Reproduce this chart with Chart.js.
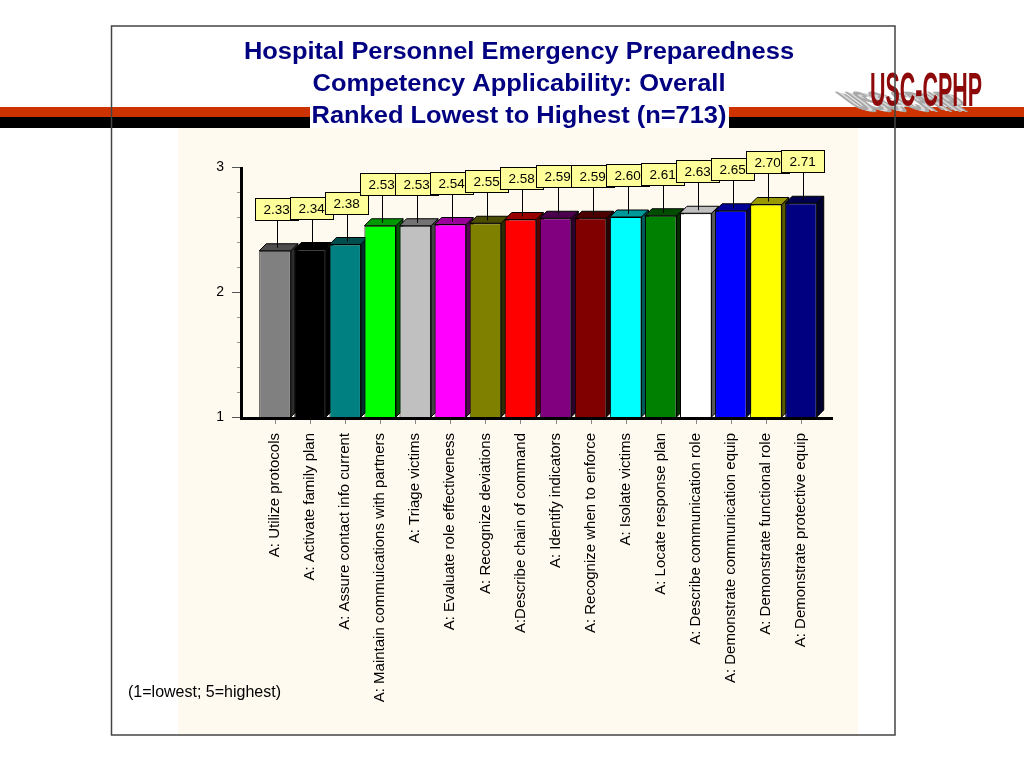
<!DOCTYPE html>
<html>
<head>
<meta charset="utf-8">
<script src="https://cdn.jsdelivr.net/npm/chart.js@4.4.0/dist/chart.umd.min.js"></script>
<style>
  html, body { margin: 0; padding: 0; background: #fff; }
  #wrap { width: 1024px; height: 779px; position: relative; }
</style>
</head>
<body>
<div id="wrap"><canvas id="chart"></canvas></div>
<script>
// Competencies, ranked lowest to highest
const categories = [
    'A: Utilize protocols',
    'A: Activate family plan',
    'A: Assure contact info current',
    'A: Maintain commuications with partners',
    'A: Triage victims',
    'A: Evaluate role effectiveness',
    'A: Recognize deviations',
    'A:Describe chain of command',
    'A: Identify indicators',
    'A: Recognize when to enforce',
    'A: Isolate victims',
    'A: Locate response plan',
    'A: Describe communication role',
    'A: Demonstrate communication equip',
    'A: Demonstrate functional role',
    'A: Demonstrate protective equip'
];
const scores = [2.33, 2.34, 2.38, 2.53, 2.53, 2.54, 2.55, 2.58, 2.59, 2.59, 2.60, 2.61, 2.63, 2.65, 2.70, 2.71];
const barColors = ['#808080', '#000000', '#008080', '#00ff00', '#c0c0c0', '#ff00ff', '#808000', '#ff0000',
                   '#800080', '#800000', '#00ffff', '#008000', '#ffffff', '#0000ff', '#ffff00', '#000080'];
const yTicks = [1, 2, 3];
const titleLines = ['Hospital Personnel Emergency Preparedness', 'Competency Applicability: Overall', 'Ranked Lowest to Highest (n=713)'];
const noteText = '(1=lowest; 5=highest)';

const FONT = '"Liberation Sans", Arial, sans-serif';
const DEPTH = 7;

// darken a hex colour by factor f
function shade(hex, f) {
    const n = parseInt(hex.slice(1), 16);
    const r = Math.round(((n >> 16) & 255) * f);
    const g = Math.round(((n >> 8) & 255) * f);
    const b = Math.round((n & 255) * f);
    return 'rgb(' + r + ',' + g + ',' + b + ')';
}

// slide background: frame, stripes, title, logo
const backdrop = {
    id: 'backdrop',
    beforeDraw(chart) {
        const ctx = chart.ctx;
        ctx.save();
        ctx.fillStyle = '#ffffff';
        ctx.fillRect(0, 0, 1024, 779);
        ctx.fillStyle = '#fefaef';
        ctx.fillRect(178, 128, 680, 607);

        // stripes
        ctx.fillStyle = '#cc3300';
        ctx.fillRect(0, 107, 1024, 10);
        ctx.fillStyle = '#000000';
        ctx.fillRect(0, 117, 1024, 11);

        // title
        ctx.font = 'bold 23px ' + FONT;
        const w3 = ctx.measureText(titleLines[2]).width;
        const sx = 415 / w3;
        ctx.fillStyle = '#ffffff';
        ctx.fillRect(310, 106, 419, 22);
        ctx.fillStyle = '#000080';
        ctx.textAlign = 'center';
        ctx.textBaseline = 'alphabetic';
        const baselines = [59, 91, 123];
        titleLines.forEach((line, i) => {
            ctx.save();
            ctx.translate(519, baselines[i]);
            ctx.scale(sx, 1);
            ctx.fillText(line, 0, 0);
            ctx.restore();
        });

        // logo with slanted grey shadow
        ctx.font = 'bold 48px ' + FONT;
        ctx.textAlign = 'left';
        const lw = ctx.measureText('USC-CPHP').width;
        const lsx = 112 / lw;
        for (let k = 0; k < 3; k++) {
            ctx.save();
            ctx.setTransform(lsx, 0, 0.75, 0.55, 866 - k * 4, 112 - k);
            ctx.fillStyle = k === 1 ? '#d8d8d8' : '#a8a8a8';
            ctx.fillText('USC-CPHP', 0, 0);
            ctx.restore();
        }
        ctx.save();
        ctx.translate(870, 106);
        ctx.scale(lsx, 1.0);
        ctx.fillStyle = '#8e0a0a';
        ctx.fillText('USC-CPHP', 0, 0);
        ctx.restore();

        // frame
        ctx.strokeStyle = '#444444';
        ctx.lineWidth = 1.5;
        ctx.strokeRect(111.5, 26, 783.5, 709);

        // note
        ctx.fillStyle = '#000000';
        ctx.font = '16px ' + FONT;
        ctx.fillText(noteText, 128, 697);
        ctx.restore();
    }
};

// 3D top and side faces, drawn behind the fronts
const faces = {
    id: 'faces',
    beforeDatasetsDraw(chart) {
        const ctx = chart.ctx;
        const meta = chart.getDatasetMeta(0);
        const base = chart.scales.y.getPixelForValue(1);
        ctx.save();
        ctx.strokeStyle = '#000000';
        ctx.lineWidth = 1;
        meta.data.forEach((bar, i) => {
            const left = bar.x - bar.width / 2;
            const right = bar.x + bar.width / 2;
            const top = bar.y;
            ctx.fillStyle = shade(barColors[i], 0.35);
            ctx.beginPath();
            ctx.moveTo(right, top);
            ctx.lineTo(right + DEPTH, top - DEPTH);
            ctx.lineTo(right + DEPTH, base - DEPTH);
            ctx.lineTo(right, base);
            ctx.closePath();
            ctx.fill();
            ctx.stroke();
            ctx.fillStyle = i === 12 ? '#c0c0c0' : shade(barColors[i], 0.6);
            ctx.beginPath();
            ctx.moveTo(left, top);
            ctx.lineTo(left + DEPTH, top - DEPTH);
            ctx.lineTo(right + DEPTH, top - DEPTH);
            ctx.lineTo(right, top);
            ctx.closePath();
            ctx.fill();
            ctx.stroke();
        });
        ctx.restore();
    }
};

// axes lines, ticks and the yellow value boxes
const overlay = {
    id: 'overlay',
    afterDatasetsDraw(chart) {
        const ctx = chart.ctx;
        const y = chart.scales.y;
        const meta = chart.getDatasetMeta(0);
        const floor = y.getPixelForValue(1);
        ctx.save();

        // minor ticks
        ctx.strokeStyle = '#999999';
        ctx.lineWidth = 1;
        for (let v = 1.2; v < 3; v += 0.2) {
            const py = Math.round(y.getPixelForValue(v)) + 0.5;
            ctx.beginPath();
            ctx.moveTo(237, py);
            ctx.lineTo(241, py);
            ctx.stroke();
        }
        // major ticks
        ctx.strokeStyle = '#555555';
        yTicks.forEach(v => {
            const py = Math.round(y.getPixelForValue(v)) + 0.5;
            ctx.beginPath();
            ctx.moveTo(232, py);
            ctx.lineTo(241, py);
            ctx.stroke();
        });
        // category ticks
        ctx.strokeStyle = '#888888';
        meta.data.forEach(bar => {
            ctx.beginPath();
            ctx.moveTo(Math.round(bar.x) + 0.5, floor + 2);
            ctx.lineTo(Math.round(bar.x) + 0.5, floor + 7);
            ctx.stroke();
        });

        // axis lines
        ctx.strokeStyle = '#000000';
        ctx.lineWidth = 3;
        ctx.beginPath();
        ctx.moveTo(241.5, y.getPixelForValue(3));
        ctx.lineTo(241.5, floor + 1.5);
        ctx.lineTo(833, floor + 1.5);
        ctx.stroke();

        // leader lines
        ctx.lineWidth = 1;
        meta.data.forEach(bar => {
            const lx = Math.round(bar.x + 2) + 0.5;
            ctx.beginPath();
            ctx.moveTo(lx, bar.y - 31);
            ctx.lineTo(lx, bar.y - 3);
            ctx.stroke();
        });

        // value boxes
        ctx.font = '13.5px ' + FONT;
        ctx.textAlign = 'left';
        ctx.textBaseline = 'middle';
        meta.data.forEach((bar, i) => {
            const bx = Math.round(bar.x - 20) + 0.5;
            const by = Math.round(bar.y - 53) + 0.5;
            ctx.fillStyle = '#ffff99';
            ctx.fillRect(bx, by, 43, 22);
            ctx.strokeStyle = '#000000';
            ctx.strokeRect(bx, by, 43, 22);
            ctx.fillStyle = '#000000';
            ctx.fillText(scores[i].toFixed(2), bx + 8, by + 12);
        });
        ctx.restore();
    }
};

document.addEventListener('DOMContentLoaded', function() {
    const ctx = document.getElementById('chart').getContext('2d');
    new Chart(ctx, {
        type: 'bar',
        data: {
            labels: categories,
            datasets: [{
                data: scores,
                backgroundColor: barColors,
                borderColor: '#000000',
                borderWidth: 1,
                borderSkipped: false,
                barPercentage: 0.9,
                categoryPercentage: 1.0
            }]
        },
        options: {
            responsive: true,
            maintainAspectRatio: false,
            animation: false,
            layout: {
                padding: { left: 0, right: 205.5, top: 167, bottom: 0 }
            },
            plugins: {
                legend: { display: false },
                tooltip: { enabled: false }
            },
            scales: {
                x: {
                    offset: true,
                    grid: { display: false },
                    border: { display: false },
                    ticks: {
                        autoSkip: false,
                        minRotation: 90,
                        maxRotation: 90,
                        padding: 8,
                        color: '#000000',
                        font: { family: FONT, size: 15 }
                    },
                    afterFit: function(scale) { scale.height = 362; }
                },
                y: {
                    min: 1,
                    max: 3,
                    grid: { display: false },
                    border: { display: false },
                    ticks: {
                        stepSize: 1,
                        padding: 25.5,
                        color: '#000000',
                        font: { family: FONT, size: 14 }
                    },
                    afterFit: function(scale) { scale.width = 257.5; }
                }
            }
        },
        plugins: [backdrop, faces, overlay]
    });
});
</script>
</body>
</html>
